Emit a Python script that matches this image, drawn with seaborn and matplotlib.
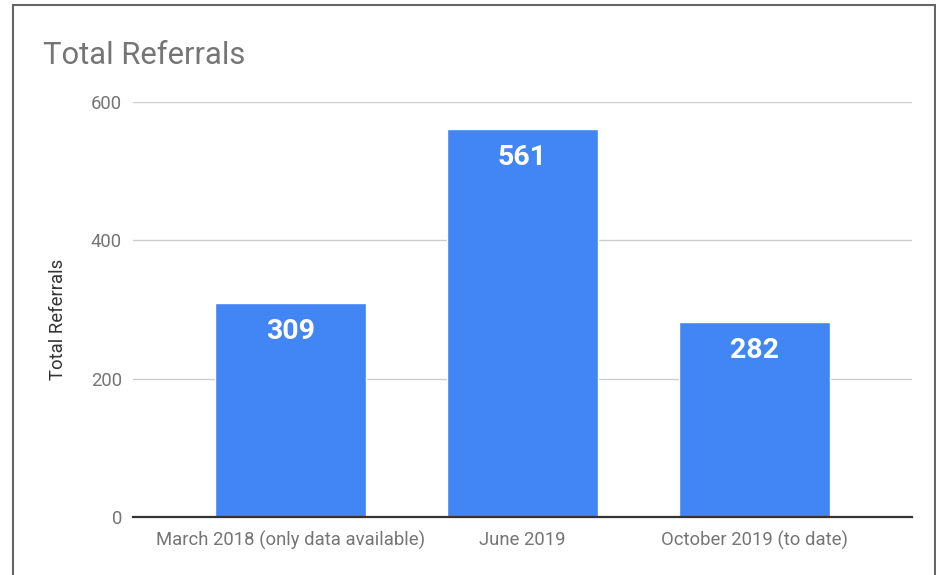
import numpy as np
import pandas as pd
import seaborn as sns
from matplotlib import pyplot as plt
from matplotlib.patches import Rectangle

categories = ['March 2018 (only data available)', 'June 2019', 'October 2019 (to date)']
referrals = [309, 561, 282]
yticks = [0, 200, 400, 600]

df = pd.DataFrame({'period': categories, 'referrals': referrals})

sns.set_theme(style='white')
plt.rcParams['font.family'] = ['Roboto', 'DejaVu Sans']

W, H = 937, 575
fig = plt.figure(figsize=(W / 100, H / 100), dpi=100)
ax = fig.add_axes([133 / W, 1 - 517 / H, (912 - 133) / W, (517 - 102) / H])

sns.barplot(data=df, x='period', y='referrals', color='#4285F4', saturation=1,
            width=0.65, ax=ax, zorder=3)

ax.set_ylim(0, 600)
ax.set_xlim(-0.68, 2.68)
ax.set_yticks(yticks)
ax.grid(axis='y', color='#cccccc', linewidth=1, zorder=0)
for s in ['top', 'right', 'left']:
    ax.spines[s].set_visible(False)
ax.spines['bottom'].set_color('#333333')
ax.spines['bottom'].set_linewidth(1.6)
ax.spines['bottom'].set_zorder(4)
ax.tick_params(axis='both', length=0, labelsize=13.3, labelcolor='#757575')
ax.tick_params(axis='y', pad=8)
ax.tick_params(axis='x', pad=10)
ax.set_xlabel('')
ax.set_ylabel('Total Referrals', fontsize=13.3, color='#333333')
ax.yaxis.set_label_coords(-0.085, 0.475)

for i, v in enumerate(referrals):
    ax.annotate(str(v), (i, v), xytext=(0, -20.5), textcoords='offset points',
                ha='center', va='center', color='white', fontsize=20.5, fontweight='bold')

fig.text(43 / W, 1 - 55 / H, 'Total Referrals', fontsize=22.3, color='#757575',
         ha='left', va='center')

fig.patches.append(Rectangle((13 / W, -0.1), (935 - 13) / W, 1.1 - 5 / H,
                             transform=fig.transFigure, fill=False,
                             edgecolor='#666666', linewidth=1.5))

plt.savefig('out.png', dpi=100)
